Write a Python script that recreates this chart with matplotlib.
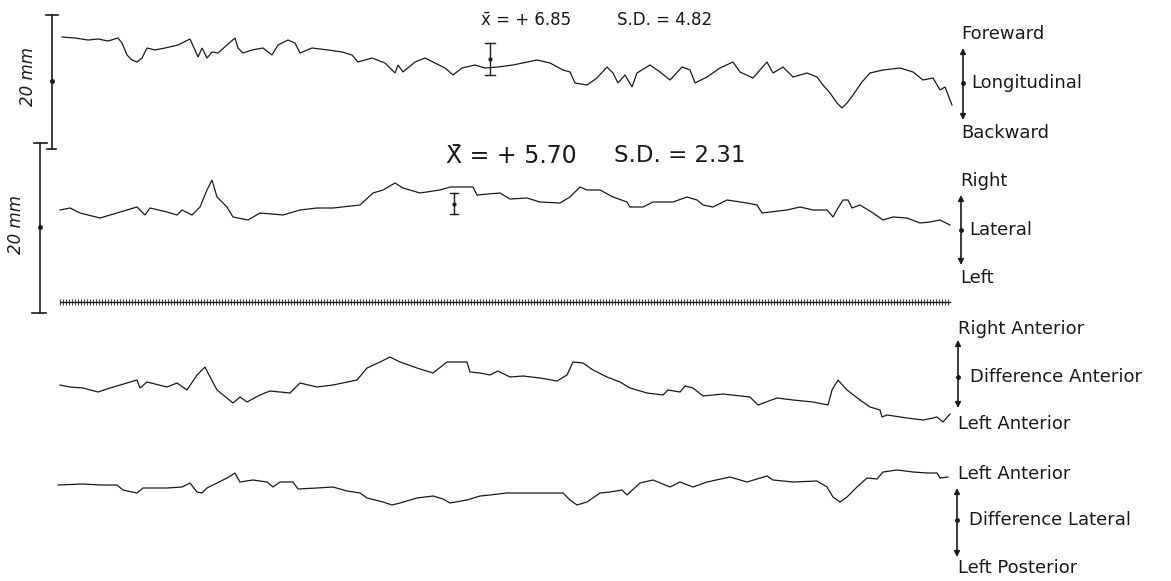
import numpy as np
import matplotlib
matplotlib.use("Agg")
import matplotlib.pyplot as plt

# ---- data: (time, displacement) read from the recording, four channels ----
long_t = [2, 15, 28, 38, 48, 58, 62, 67, 72, 77, 82, 87, 95, 105, 118, 130, 135, 138, 142, 147,
          152, 158, 167, 175, 178, 183, 192, 203, 212, 218, 228, 235, 240, 252, 268, 282, 292, 298,
          312, 325, 335, 338, 343, 355, 365, 375, 385, 393, 402, 415, 425, 438,
          453, 477, 490, 503, 510, 515, 527, 537, 547, 553, 558, 565, 572, 577, 590, 600, 610, 622,
          630, 635, 647, 660, 673, 680, 693, 707, 713, 723, 733, 747, 757, 763, 770, 777, 782, 787,
          793, 802, 810, 823, 840, 853, 863, 873, 880, 885, 892]
long_v = [43, 42, 40, 41, 39, 42, 37, 25, 20, 18, 22, 32, 30, 32, 35, 41, 30, 23, 32, 22,
          28, 27, 35, 42, 32, 27, 30, 32, 25, 35, 40, 37, 27, 32, 30, 28, 25, 18,
          22, 17, 7, 15, 8, 18, 22, 17, 12, 5, 12, 15, 12, 13,
          15, 20, 17, 10, 8, -3, -5, 2, 13, 7, -3, 5, -7, 7, 15, 8, 0, 13,
          10, -3, 3, 12, 18, 8, 2, 18, 7, 13, 3, 7, 3, -5, -13, -23, -28, -23,
          -15, -2, 7, 10, 12, 8, 0, 2, -10, -7, -25]

lat_t = [0, 10, 20, 40, 57, 77, 85, 90, 107, 117, 122, 132, 140, 147, 152, 157, 167, 173, 188, 200,
         223, 240, 257, 273, 300, 313, 323, 335, 343, 360, 380, 390, 400, 413, 417, 440, 450, 467,
         480, 500, 510, 520, 527, 540, 553, 567, 570, 583, 593, 613, 627, 637, 643, 653, 667, 687,
         697, 702, 727, 740, 753, 767, 773, 778, 783, 788, 792, 800, 813, 823, 833, 847, 860, 870,
         880, 890]
lat_v = [0, 2, -3, -8, -3, 3, -5, 2, -2, -5, 0, -5, 3, 20, 30, 13, 3, -7, -10, -3,
         -5, 0, 2, 2, 5, 17, 20, 27, 22, 17, 20, 23, 23, 23, 15, 17, 11, 12,
         8, 7, 13, 23, 20, 20, 13, 8, 3, 3, 8, 8, 13, 10, 5, 3, 10, 7,
         5, -3, 0, 3, 0, 0, -7, 2, 10, 10, 2, 5, -3, -10, -7, -8, -13, -12,
         -10, -15]

dant_t = [0, 10, 23, 38, 50, 67, 77, 80, 87, 107, 117, 127, 137, 145, 148, 157, 173, 180, 187, 200,
          210, 230, 240, 257, 273, 297, 307, 320, 330, 340, 357, 373, 387, 407, 410, 420, 430, 438,
          450, 463, 480, 497, 507, 513, 523, 533, 547, 560, 570, 587, 603, 608, 620, 625, 633, 643,
          663, 690, 698, 717, 733, 753, 768, 772, 778, 787, 800, 810, 820, 822, 827, 847, 863, 873,
          877, 883, 890]
dant_v = [5, 3, 2, -2, 2, 7, 10, 2, 8, 3, 7, 0, 15, 23, 17, 0, -13, -7, -12, -5,
          -1, -3, 7, 3, 5, 10, 22, 28, 33, 28, 22, 17, 28, 28, 18, 17, 15, 19,
          13, 14, 12, 9, 15, 28, 27, 20, 13, 8, 2, -3, -5, 0, -2, 4, 2, -6,
          -4, -7, -15, -8, -10, -12, -15, 0, 10, 0, -10, -17, -20, -27, -25, -28, -30, -28,
          -27, -32, -24]

dlat_t = [-2, 23, 40, 57, 63, 77, 83, 107, 122, 130, 137, 142, 147, 157, 167, 175, 180, 193, 207, 213,
          220, 233, 238, 257, 273, 287, 300, 307, 323, 332, 340, 357, 373, 383, 390, 407, 420, 430,
          447, 480, 503, 510, 517, 527, 540, 550, 562, 567, 580, 593, 610, 620, 633, 647, 670, 687,
          707, 713, 733, 757, 767, 773, 780, 787, 797, 807, 817, 823, 837, 853, 867, 877, 880, 888]
dlat_v = [5, 6, 5, 5, 0, -3, 2, 2, 3, 7, -2, -3, 2, 7, 12, 17, 8, 10, 8, 3,
          8, 8, 1, 2, 3, -1, -3, -8, -12, -15, -13, -8, -6, -9, -13, -10, -6, -5,
          -3, -3, -3, -10, -15, -12, -3, -2, 0, -5, 7, 10, 3, 8, 3, 8, 13, 8,
          14, 10, 8, 9, 3, -7, -12, -7, 3, 12, 11, 18, 20, 18, 17, 17, 12, 13]

stats_top = ("+ 6.85", "4.82")
stats_lat = ("+ 5.70", "2.31")

labels_long = ("Foreward", "Longitudinal", "Backward")
labels_lat = ("Right", "Lateral", "Left")
labels_dant = ("Right Anterior", "Difference Anterior", "Left Anterior")
labels_dlat = ("Left Anterior", "Difference Lateral", "Left Posterior")

# ---- layout (figure pixel space) ----
W, H = 1171, 581
fig = plt.figure(figsize=(W / 100, H / 100), dpi=100)
ax = fig.add_axes([0, 0, 1, 1])
ax.set_xlim(0, W)
ax.set_ylim(H, 0)
ax.axis("off")

x0 = 60
ink = "#1a1a1a"
traces = [(long_t, long_v, 80), (lat_t, lat_v, 210), (dant_t, dant_v, 390), (dlat_t, dlat_v, 490)]
for t, v, base in traces:
    ax.plot(np.asarray(t) + x0, base - np.asarray(v), color=ink, lw=0.9, solid_joinstyle="miter")

# time-mark line
marks = np.arange(60, 951, 3)
ax.plot([60, 950], [302, 302], color=ink, lw=1.0)
ax.plot(marks, np.full(marks.shape, 302), ls="none", marker="|", ms=4, mew=0.6, color=ink)

# scale bars (20 mm)
def scale_bar(x, y1, y2, cap_top, cap_bot, ydot):
    ax.plot([x, x], [y1, y2], color=ink, lw=1.2)
    ax.plot(cap_top, [y1, y1], color=ink, lw=1.2)
    ax.plot(cap_bot, [y2, y2], color=ink, lw=1.2)
    ax.plot([x], [ydot], "o", color=ink, ms=2.5)

scale_bar(52, 15, 149, [46, 58], [47, 56], 81)
scale_bar(40, 143, 313, [34, 47], [32, 46], 227)
ax.text(28, 77, "20 mm", rotation=90, ha="center", va="center", fontsize=12, style="italic", color=ink)
ax.text(16, 224, "20 mm", rotation=90, ha="center", va="center", fontsize=12, style="italic", color=ink)

# error bars at the means
def err_bar(x, y1, y2, half):
    ax.plot([x, x], [y1, y2], color=ink, lw=1.0)
    ax.plot([x - half, x + half], [y1, y1], color=ink, lw=1.0)
    ax.plot([x - half, x + half], [y2, y2], color=ink, lw=1.0)
    ax.plot([x], [(y1 + y2) / 2], "o", color=ink, ms=2)

err_bar(490, 43, 75, 5)
err_bar(454, 193, 214, 4)

# statistics text
ax.text(481, 20, "x\u0304 = " + stats_top[0], fontsize=12, ha="left", va="center", color=ink)
ax.text(617, 20, "S.D. = " + stats_top[1], fontsize=12, ha="left", va="center", color=ink)
ax.text(446, 156, "X\u0304 = " + stats_lat[0], fontsize=17, ha="left", va="center", color=ink)
ax.text(614, 156, "S.D. = " + stats_lat[1], fontsize=16.5, ha="left", va="center", color=ink)

# right-hand direction labels
def direction(labels, xa, ytop, ymid, ybot, ylab_top, ylab_bot, xlab, xmid):
    ax.annotate("", xy=(xa, ytop), xytext=(xa, ymid),
                arrowprops=dict(arrowstyle="-|>", lw=1.2, color=ink, mutation_scale=8, shrinkA=0, shrinkB=0))
    ax.annotate("", xy=(xa, ybot), xytext=(xa, ymid),
                arrowprops=dict(arrowstyle="-|>", lw=1.2, color=ink, mutation_scale=8, shrinkA=0, shrinkB=0))
    ax.plot([xa], [ymid], "o", color=ink, ms=2.5)
    ax.text(xlab, ylab_top, labels[0], fontsize=13, ha="left", va="center", color=ink)
    ax.text(xmid, ymid, labels[1], fontsize=13, ha="left", va="center", color=ink)
    ax.text(xlab, ylab_bot, labels[2], fontsize=13, ha="left", va="center", color=ink)

direction(labels_long, 963, 48, 83, 120, 34, 133, 961, 971)
direction(labels_lat, 961, 195, 230, 265, 181, 278, 960, 969)
direction(labels_dant, 958, 340, 377, 408, 329, 424, 958, 970)
direction(labels_dlat, 957, 488, 520, 557, 474, 568, 958, 969)

fig.savefig("out.png", dpi=100, facecolor="white")
